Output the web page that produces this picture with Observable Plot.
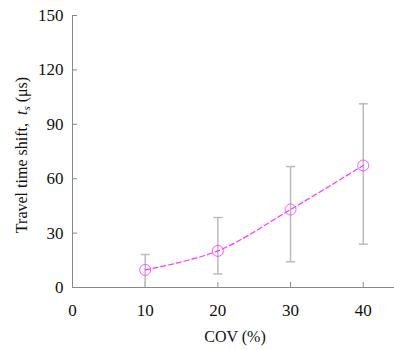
<!DOCTYPE html>
<html><head><meta charset="utf-8">
<script src="https://cdn.jsdelivr.net/npm/d3@7"></script>
<script src="https://cdn.jsdelivr.net/npm/@observablehq/plot@0.6"></script>
<style>body{margin:0;background:#fff}</style>
</head><body><div id="chart"></div>
<script>
const cov = [10, 20, 30, 40];
const meanShift = [9.7, 20.2, 43, 67.3];
const lowShift = [0, 7.5, 14.2, 23.9];
const highShift = [18.2, 38.6, 66.7, 101.3];
const xTicks = [0, 10, 20, 30, 40];
const yTicks = [0, 30, 60, 90, 120, 150];

const data = cov.map((c, i) => ({cov: c, mean: meanShift[i], lo: lowShift[i], hi: highShift[i]}));
const capSymbol = {draw(ctx, size) { const w = Math.sqrt(size / Math.PI); ctx.moveTo(-w, 0); ctx.lineTo(w, 0); }};
const font = "Liberation Serif, Times New Roman, serif";

const chart = Plot.plot({
  width: 394, height: 350,
  marginLeft: 72, marginTop: 15, marginBottom: 63, marginRight: 0,
  style: {fontFamily: font, fontSize: "16px", color: "#000", background: "#fff"},
  x: {domain: [0, 44.3], label: null},
  y: {domain: [0, 150], label: null},
  marks: [
    Plot.axisX({ticks: xTicks, tickSize: -5, tickPadding: 21, stroke: "#888", fill: "#111", fontFamily: font, fontSize: 17}),
    Plot.axisY({ticks: yTicks, tickSize: -5, tickPadding: 14, stroke: "#888", fill: "#111", fontFamily: font, fontSize: 17}),
    Plot.ruleX([0], {stroke: "#888"}),
    Plot.ruleY([0], {stroke: "#888"}),
    Plot.ruleX(data, {x: "cov", y1: "lo", y2: "hi", stroke: "#bbb", strokeWidth: 1.5}),
    Plot.dot(data, {x: "cov", y: "hi", symbol: capSymbol, r: 4.5, stroke: "#bbb", strokeWidth: 1.5, fill: "none"}),
    Plot.dot(data.filter(d => d.lo > 0), {x: "cov", y: "lo", symbol: capSymbol, r: 4.5, stroke: "#bbb", strokeWidth: 1.5, fill: "none"}),
    Plot.line(data, {x: "cov", y: "mean", curve: "catmull-rom", stroke: "#ff33ff", strokeWidth: 1.2, strokeDasharray: "5,3"}),
    Plot.dot(data, {x: "cov", y: "mean", r: 5.5, stroke: "#ff55ff", fill: "none", strokeWidth: 1})
  ]
});

const svg = d3.select(chart);
svg.append("text")
  .attr("transform", "translate(27,155) rotate(-90)")
  .attr("text-anchor", "middle")
  .style("font-family", font).style("font-size", "16px").attr("fill", "#111")
  .call(t => {
    t.append("tspan").text("Travel time shift,  ");
    t.append("tspan").attr("font-style", "italic").text("t");
    t.append("tspan").attr("font-style", "italic").attr("font-size", "11px").attr("dy", 3).text("s");
    t.append("tspan").attr("dy", -3).text(" (μs)");
  });
svg.append("text")
  .attr("x", 235).attr("y", 342)
  .attr("text-anchor", "middle")
  .style("font-family", font).style("font-size", "16px").attr("fill", "#111")
  .text("COV (%)");

document.getElementById("chart").appendChild(chart);
</script>
</body></html>
